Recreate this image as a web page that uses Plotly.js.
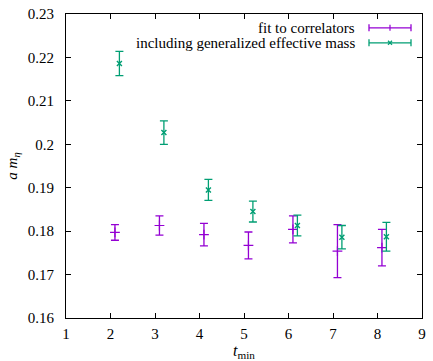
<!DOCTYPE html>
<html>
<head>
<meta charset="utf-8">
<script src="https://cdn.plot.ly/plotly-3.0.1.min.js"></script>
<style>html,body{margin:0;padding:0;background:#fff;}#chart{width:433px;height:361px;}</style>
</head>
<body>
<div id="chart"></div>
<script>
// Data
var tminFit = [2.1, 3.1, 4.1, 5.1, 6.1, 7.1, 8.1];
var massFit = [0.1797, 0.1813, 0.1792, 0.1767, 0.1804, 0.1754, 0.1762];
var errFit  = [0.0018, 0.0022, 0.0026, 0.0031, 0.0031, 0.0061, 0.0042];

var tminGen = [2.2, 3.2, 4.2, 5.2, 6.2, 7.2, 8.2];
var massGen = [0.2186, 0.2027, 0.1895, 0.1845, 0.1813, 0.1786, 0.1787];
var errGen  = [0.0028, 0.0027, 0.0024, 0.0024, 0.0024, 0.0027, 0.0033];

var legendLabels = ['fit to correlators', 'including generalized effective mass'];
var colors = ['#9400d3', '#009e73'];

var fam = '"Liberation Serif", "DejaVu Serif", serif';
var font = {family: fam, size: 15, color: '#000'};
var legFont = {family: fam, size: 15, color: '#000'};

var traces = [
  {x: tminFit, y: massFit, type: 'scatter', mode: 'markers', name: legendLabels[0],
   marker: {symbol: 'cross-thin-open', size: 7, color: colors[0], line: {color: colors[0], width: 1.2}},
   error_y: {type: 'data', array: errFit, visible: true, color: colors[0], thickness: 1.3, width: 4}},
  {x: tminGen, y: massGen, type: 'scatter', mode: 'markers', name: legendLabels[1],
   marker: {symbol: 'x-thin-open', size: 5, color: colors[1], line: {color: colors[1], width: 1.4}},
   error_y: {type: 'data', array: errGen, visible: true, color: colors[1], thickness: 1.3, width: 4}}
];

// legend drawn in paper coordinates (gnuplot style: text right, sample on right)
var W = 433, H = 361, mL = 66, mR = 11, mT = 14, mB = 43;
var pw = W - mL - mR, ph = H - mT - mB;
function px(x){ return (x - mL) / pw; }
function py(y){ return 1 - (y - mT) / ph; }
var rowsY = [27.8, 42.8];
var annotations = [], shapes = [];
var sx0 = 369, sx1 = 411, cap = 3.5;
for (var i = 0; i < 2; i++) {
  annotations.push({xref: 'paper', yref: 'paper', x: px(356), y: py(rowsY[i]), xanchor: 'right', yanchor: 'middle',
    text: legendLabels[i], showarrow: false, font: legFont, borderpad: 0});
  shapes.push({type: 'line', xref: 'paper', yref: 'paper', x0: px(sx0), x1: px(sx1), y0: py(rowsY[i]), y1: py(rowsY[i]), line: {color: colors[i], width: 1.3}});
  shapes.push({type: 'line', xref: 'paper', yref: 'paper', x0: px(sx0), x1: px(sx0), y0: py(rowsY[i] - cap), y1: py(rowsY[i] + cap), line: {color: colors[i], width: 1.3}});
  shapes.push({type: 'line', xref: 'paper', yref: 'paper', x0: px(sx1), x1: px(sx1), y0: py(rowsY[i] - cap), y1: py(rowsY[i] + cap), line: {color: colors[i], width: 1.3}});
}
var cx = (sx0 + sx1) / 2;
// legend marker glyphs
shapes.push({type: 'line', xref: 'paper', yref: 'paper', x0: px(cx), x1: px(cx), y0: py(rowsY[0] - 3), y1: py(rowsY[0] + 3), line: {color: colors[0], width: 1.2}});
shapes.push({type: 'line', xref: 'paper', yref: 'paper', x0: px(cx - 2), x1: px(cx + 2), y0: py(rowsY[1] - 2), y1: py(rowsY[1] + 2), line: {color: colors[1], width: 1.3}});
shapes.push({type: 'line', xref: 'paper', yref: 'paper', x0: px(cx - 2), x1: px(cx + 2), y0: py(rowsY[1] + 2), y1: py(rowsY[1] - 2), line: {color: colors[1], width: 1.3}});

var layout = {
  width: W, height: H,
  margin: {l: mL, r: mR, t: mT, b: mB, pad: 0},
  paper_bgcolor: '#fff', plot_bgcolor: '#fff',
  showlegend: false,
  font: font,
  xaxis: {range: [1, 9], dtick: 1, tick0: 1, showgrid: false, zeroline: false,
    showline: true, linecolor: '#000', linewidth: 1, mirror: 'allticks',
    ticks: 'inside', ticklen: 5, tickcolor: '#000', tickfont: font, ticklabelstandoff: 2,
    title: {text: '<i>t</i><sub>min</sub>', font: {family: fam, size: 16, color: '#000'}, standoff: 2}},
  yaxis: {range: [0.16, 0.23], dtick: 0.01, tick0: 0.16, showgrid: false, zeroline: false,
    showline: true, linecolor: '#000', linewidth: 1, mirror: 'allticks',
    ticks: 'inside', ticklen: 5, tickcolor: '#000', tickfont: font, ticklabelstandoff: 8,
    title: {text: '<i>a m</i><sub><i>η</i></sub>', font: font, standoff: 6}},
  annotations: annotations,
  shapes: shapes
};

Plotly.newPlot('chart', traces, layout, {displayModeBar: false, staticPlot: true});
</script>
</body>
</html>
